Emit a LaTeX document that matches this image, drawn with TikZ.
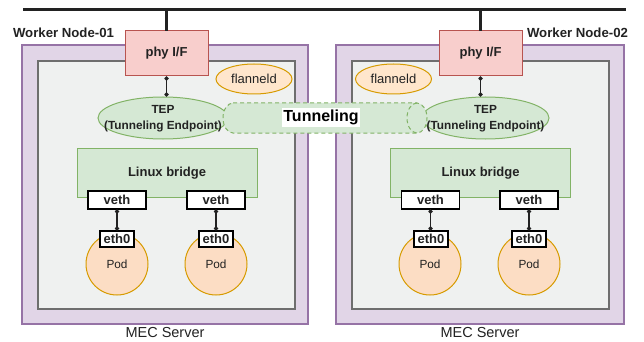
\documentclass[tikz,border=0pt]{standalone}
\usepackage{fontspec}
\setmainfont{Liberation Sans}
\usetikzlibrary{arrows.meta,shapes.geometric}

\definecolor{pinkfill}{HTML}{F8CECC}
\definecolor{pinkline}{HTML}{B85450}
\definecolor{purplefill}{HTML}{E1D5E7}
\definecolor{purpleline}{HTML}{9673A6}
\definecolor{hostfill}{HTML}{EFF1F0}
\definecolor{hostline}{HTML}{6E6E6E}
\definecolor{greenfill}{HTML}{D5E8D4}
\definecolor{greenline}{HTML}{82B366}
\definecolor{orangefill}{HTML}{FFE6CC}
\definecolor{orangeline}{HTML}{D79B00}
\definecolor{podfill}{HTML}{FCDDC4}
\definecolor{txt}{HTML}{222222}

\tikzset{
  every node/.style={text=txt, inner sep=0pt, outer sep=0pt},
  server/.style={draw=purpleline, fill=purplefill, line width=1.6pt},
  host/.style={draw=hostline, fill=hostfill, line width=1.1pt},
  phyif/.style={draw=pinkline, fill=pinkfill, line width=1pt,
    minimum width=83pt, minimum height=45pt, font=\fontsize{13}{15}\selectfont\bfseries},
  daemon/.style={draw=orangeline, fill=orangefill, ellipse, line width=1pt,
    minimum width=76pt, minimum height=30pt, font=\fontsize{13}{15}\selectfont},
  tepshape/.style={draw=greenline, fill=greenfill, ellipse, line width=1pt},
  teptext/.style={align=center, font=\fontsize{11.8}{15.5}\selectfont\bfseries},
  bridge/.style={draw=greenline, fill=greenfill, line width=1pt,
    minimum width=180pt, minimum height=49pt, font=\fontsize{13}{15}\selectfont\bfseries},
  port/.style={draw=black, fill=white, line width=1.1pt, minimum height=18pt,
    minimum width=58pt, font=\fontsize{13}{15}\selectfont\bfseries},
  podport/.style={port, minimum width=34pt, minimum height=16pt},
  pod/.style={circle, draw=orangeline, fill=podfill, line width=1pt,
    minimum size=62pt, font=\fontsize{11.8}{14}\selectfont},
  link/.style={draw=txt, line width=1.4pt,
    {Diamond[length=5pt,width=4.5pt]}-{Diamond[length=5pt,width=4.5pt]}},
  bus/.style={line width=3pt, draw=txt},
  tunnelshape/.style={draw=greenline, fill=greenfill, line width=1pt,
    dash pattern=on 4pt off 3pt},
  nodelabel/.style={font=\fontsize{13.2}{15}\selectfont\bfseries, anchor=west},
  serverlabel/.style={font=\fontsize{14.5}{17}\selectfont}
}

\begin{document}
\begin{tikzpicture}[x=1pt, y=-1pt]
  \useasboundingbox (0,0) rectangle (644,342);
  \fill[white] (0,0) rectangle (644,342);

  % shared network line
  \coordinate (busL) at (23,10);
  \coordinate (busR) at (626,10);
  \draw[bus] (busL) -- (busR);

  % server enclosures and host areas
  \node[server, minimum width=286pt, minimum height=279pt] (srv1) at (165,184.5) {};
  \node[server, minimum width=288pt, minimum height=279pt] (srv2) at (480,184.5) {};
  \node[host, minimum width=257pt, minimum height=248pt] (host1) at (166.5,185) {};
  \node[host, minimum width=257pt, minimum height=248pt] (host2) at (480.5,185) {};

  % physical interfaces
  \node[phyif] (phy1) at (166.5,53.5) {phy I/F};
  \node[phyif] (phy2) at (480.5,53.5) {phy I/F};
  \draw[bus] (phy1.north) -- (phy1.north |- busL);
  \draw[bus] (phy2.north) -- (phy2.north |- busL);

  \node[nodelabel] (wn1) at (13,33) {Worker Node-01};
  \node[nodelabel] (wn2) at (527,33) {Worker Node-02};

  % flannel daemons
  \node[daemon] (flan1) at (254,79) {flanneld};
  \node[daemon] (flan2) at (393.5,79) {flanneld};

  % tunnel endpoints
  \node[tepshape, minimum width=130pt, minimum height=42pt] (tep1) at (163,118) {};
  \node[tepshape, minimum width=127pt, minimum height=42pt] (tep2) at (485.5,118) {};

  % overlay tunnel between the endpoints
  \draw[tunnelshape] (233,103) -- (417,103)
    arc[start angle=90, end angle=-90, x radius=10pt, y radius=15pt]
    -- (233,133)
    arc[start angle=270, end angle=90, x radius=10pt, y radius=15pt] -- cycle;
  \draw[tunnelshape, fill=none] (417,103)
    arc[start angle=90, end angle=270, x radius=10pt, y radius=15pt];
  \node[fill=white, inner xsep=1.5pt, inner ysep=2pt,
        font=\fontsize{16}{18}\selectfont\bfseries, text=black] (tun) at (321,117.5) {Tunneling};

  \node[teptext] (tep1t) at (163,118.5) {TEP\\(Tunneling Endpoint)};
  \node[teptext] (tep2t) at (485.5,118.5) {TEP\\(Tunneling Endpoint)};
  \draw[link] (phy1.south) -- (phy1.south |- tep1.north);
  \draw[link] (phy2.south) -- (phy2.south |- tep2.north);

  % Linux bridges with their veth ports
  \node[bridge] (br1) at (167,173) {Linux bridge};
  \node[bridge] (br2) at (480.5,173) {Linux bridge};
  \node[port] (veth1a) at (117,200) {veth};
  \node[port] (veth1b) at (216,200) {veth};
  \node[port] (veth2a) at (430.5,200) {veth};
  \node[port] (veth2b) at (529,200) {veth};

  % pods and their interfaces
  \node[pod] (pod1a) at (117,264) {Pod};
  \node[pod] (pod1b) at (216,264) {Pod};
  \node[pod] (pod2a) at (430,264) {Pod};
  \node[pod] (pod2b) at (529,264) {Pod};
  \node[podport] (eth1a) at (117,239) {eth0};
  \node[podport] (eth1b) at (216,239) {eth0};
  \node[podport] (eth2a) at (431,239) {eth0};
  \node[podport] (eth2b) at (529,239) {eth0};

  \draw[link] (veth1a.south) -- (veth1a.south |- eth1a.north);
  \draw[link] (veth1b.south) -- (veth1b.south |- eth1b.north);
  \draw[link] (veth2a.south) -- (veth2a.south |- eth2a.north);
  \draw[link] (veth2b.south) -- (veth2b.south |- eth2b.north);

  \node[serverlabel] (mec1) at (165,333) {MEC Server};
  \node[serverlabel] (mec2) at (480,333) {MEC Server};
\end{tikzpicture}
\end{document}
